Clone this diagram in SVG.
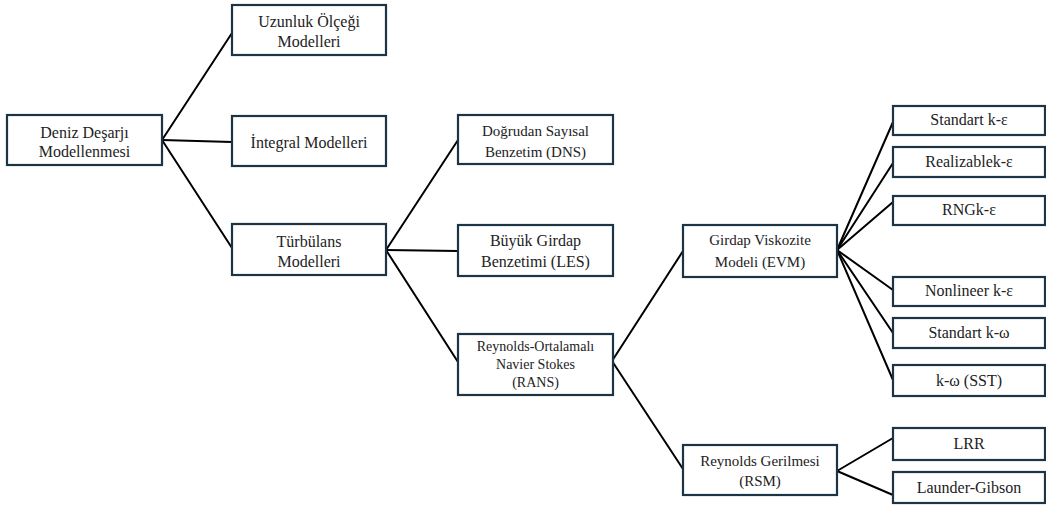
<svg xmlns="http://www.w3.org/2000/svg" width="1046" height="516" viewBox="0 0 1046 516">
<style>
  .box { fill: #ffffff; stroke: #1d3445; stroke-width: 2.2; }
  .lbl { font-family: 'Liberation Serif', 'Times New Roman', serif; fill: #222222; text-anchor: middle; font-size: 16px; }
  .f15 { font-size: 15px; }
  .f14 { font-size: 14px; }
  .conn line { stroke: #000000; stroke-width: 2; stroke-linecap: round; }
</style>
<rect x="0" y="0" width="1046" height="516" fill="#ffffff"/>
<g id="connectors" class="conn">
  <line x1="162" y1="140" x2="232" y2="33"/>
  <line x1="162" y1="140" x2="232" y2="142"/>
  <line x1="162" y1="140" x2="232" y2="248"/>
  <line x1="386" y1="250" x2="458" y2="140"/>
  <line x1="386" y1="250" x2="458" y2="251"/>
  <line x1="386" y1="250" x2="458" y2="362"/>
  <line x1="612" y1="361" x2="683" y2="251"/>
  <line x1="612" y1="361" x2="683" y2="469"/>
  <line x1="837" y1="250" x2="893" y2="122"/>
  <line x1="837" y1="250" x2="893" y2="163"/>
  <line x1="837" y1="250" x2="893" y2="202"/>
  <line x1="837" y1="250" x2="893" y2="290"/>
  <line x1="837" y1="250" x2="893" y2="333"/>
  <line x1="837" y1="250" x2="893" y2="380"/>
  <line x1="837" y1="471" x2="893" y2="438"/>
  <line x1="837" y1="471" x2="893" y2="495"/>
</g>
<g id="n-deniz">
  <rect class="box" x="7" y="115" width="155" height="50"/>
  <text class="lbl" x="84.5" y="138">Deniz Deşarjı</text>
  <text class="lbl" x="84.5" y="157">Modellenmesi</text>
</g>
<g id="n-uzunluk">
  <rect class="box" x="232" y="5" width="154" height="50"/>
  <text class="lbl" x="309" y="27">Uzunluk Ölçeği</text>
  <text class="lbl" x="309" y="47">Modelleri</text>
</g>
<g id="n-integral">
  <rect class="box" x="232" y="116" width="154" height="50"/>
  <text class="lbl" x="309" y="148">İntegral Modelleri</text>
</g>
<g id="n-turbulans">
  <rect class="box" x="232" y="224" width="154" height="51"/>
  <text class="lbl" x="309" y="247">Türbülans</text>
  <text class="lbl" x="309" y="267">Modelleri</text>
</g>
<g id="n-dns">
  <rect class="box" x="458" y="115" width="155" height="49"/>
  <text class="lbl f15" x="535.5" y="136">Doğrudan Sayısal</text>
  <text class="lbl f15" x="535.5" y="157">Benzetim (DNS)</text>
</g>
<g id="n-les">
  <rect class="box" x="458" y="225" width="155" height="51"/>
  <text class="lbl" x="535.5" y="246">Büyük Girdap</text>
  <text class="lbl" x="535.5" y="267">Benzetimi (LES)</text>
</g>
<g id="n-rans">
  <rect class="box" x="458" y="334" width="155" height="61"/>
  <text class="lbl f14" x="535.5" y="351">Reynolds-Ortalamalı</text>
  <text class="lbl f14" x="535.5" y="369">Navier Stokes</text>
  <text class="lbl f14" x="535.5" y="387">(RANS)</text>
</g>
<g id="n-evm">
  <rect class="box" x="683" y="225" width="154" height="52"/>
  <text class="lbl f15" x="760" y="245">Girdap Viskozite</text>
  <text class="lbl f15" x="760" y="267">Modeli (EVM)</text>
</g>
<g id="n-rsm">
  <rect class="box" x="683" y="445" width="154" height="50"/>
  <text class="lbl f15" x="760" y="466">Reynolds Gerilmesi</text>
  <text class="lbl f15" x="760" y="486">(RSM)</text>
</g>
<g id="n-std-ke">
  <rect class="box" x="893" y="106" width="152" height="29"/>
  <text class="lbl" x="969" y="125">Standart k-ε</text>
</g>
<g id="n-real-ke">
  <rect class="box" x="893" y="147" width="152" height="30"/>
  <text class="lbl" x="969" y="167">Realizablek-ε</text>
</g>
<g id="n-rng-ke">
  <rect class="box" x="893" y="196" width="152" height="29"/>
  <text class="lbl" x="969" y="215">RNGk-ε</text>
</g>
<g id="n-nonlin-ke">
  <rect class="box" x="893" y="277" width="152" height="29"/>
  <text class="lbl" x="969" y="296">Nonlineer k-ε</text>
</g>
<g id="n-std-kw">
  <rect class="box" x="893" y="318" width="152" height="30"/>
  <text class="lbl" x="969" y="338">Standart k-ω</text>
</g>
<g id="n-sst">
  <rect class="box" x="893" y="365" width="152" height="31"/>
  <text class="lbl" x="969" y="386">k-ω (SST)</text>
</g>
<g id="n-lrr">
  <rect class="box" x="893" y="428" width="152" height="32"/>
  <text class="lbl" x="969" y="449">LRR</text>
</g>
<g id="n-launder">
  <rect class="box" x="893" y="472" width="152" height="31"/>
  <text class="lbl" x="969" y="493">Launder-Gibson</text>
</g>
</svg>
